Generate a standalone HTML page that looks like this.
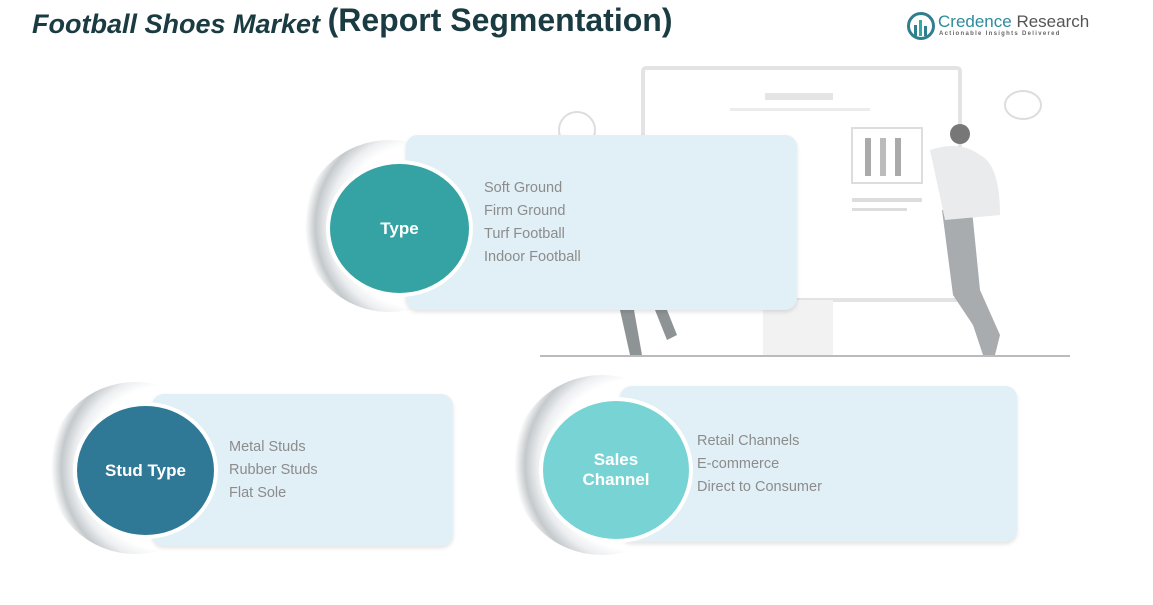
<!DOCTYPE html>
<html><head><style>
body{margin:0;width:1153px;height:605px;background:#fff;position:relative;overflow:hidden;font-family:"Liberation Sans",sans-serif}
.a{position:absolute}
.box{position:absolute;background:#e1eff6;border-radius:12px;box-shadow:0 2px 4px rgba(0,0,0,.12)}
.shad{position:absolute;border-radius:50%;background:radial-gradient(circle at 68% 50%,#fff 56%,#eceef0 64%,#c4c9cc 72%,#fff 79%)}
.c{position:absolute;border-radius:50%;border:4px solid #fff;color:#fff;font-weight:bold;font-size:17px;display:flex;align-items:center;justify-content:center;text-align:center;line-height:20px;box-sizing:border-box}
.t{position:absolute;color:#8c8c8c;font-size:14.5px;line-height:23px}
</style></head><body>
<div class="a" style="left:32px;top:4px;font-size:27px;color:#1b3b42;font-weight:bold;white-space:nowrap"><i>Football Shoes Market</i> <span style="font-size:32px;position:relative;top:-2px">(Report Segmentation)</span></div>
<svg class="a" style="left:906px;top:11px" width="30" height="30"><circle cx="15" cy="15" r="12.5" fill="none" stroke="#2f7f8f" stroke-width="3"/><rect x="8" y="14" width="3" height="11" fill="#2f7f8f"/><rect x="13" y="9" width="3" height="16" fill="#3aa"/><rect x="18" y="15" width="3" height="10" fill="#2f7f8f"/></svg>
<div class="a" style="left:938px;top:12px;font-size:17px;color:#2d8c9c;white-space:nowrap">Credence <span style="color:#555">Research</span></div>
<div class="a" style="left:939px;top:31px;font-size:6px;color:#666;letter-spacing:1.3px;font-weight:bold;white-space:nowrap">Actionable Insights Delivered</div>
<svg class="a" style="left:530px;top:60px" width="560" height="300">
<rect x="113" y="8" width="317" height="232" fill="#fff" stroke="#e3e3e3" stroke-width="4" rx="3"/>
<rect x="235" y="33" width="68" height="7" fill="#e5e5e5"/>
<rect x="200" y="48" width="140" height="3" fill="#ececec"/>
<rect x="233" y="240" width="70" height="55" fill="#f2f2f2"/>
<line x1="10" y1="296" x2="540" y2="296" stroke="#bbb" stroke-width="2"/>
<rect x="322" y="68" width="70" height="55" fill="#fff" stroke="#ddd" stroke-width="2"/>
<rect x="335" y="78" width="6" height="38" fill="#aaa"/><rect x="350" y="78" width="6" height="38" fill="#bbb"/><rect x="365" y="78" width="6" height="38" fill="#aaa"/>
<rect x="322" y="138" width="70" height="4" fill="#ddd"/><rect x="322" y="148" width="55" height="3" fill="#ddd"/>
<path d="M475 45 a18 14 0 1 1 0 .1" fill="none" stroke="#ddd" stroke-width="2"/>
<circle cx="47" cy="70" r="18" fill="none" stroke="#ddd" stroke-width="2"/>
<path d="M412 150 l30 0 l8 80 l20 45 l-5 20 h-12 l-10-30 l-20-30 z" fill="#a8acae"/>
<path d="M400 90 q30 -10 50 5 q20 10 20 60 l-55 5 z" fill="#e9ebec"/>
<circle cx="430" cy="74" r="10" fill="#777"/>
<path d="M90 250 l10 45 h12 l-8-45 z M125 250 l12 30 l10-5 l-10-25z" fill="#8e9496"/>
</svg>
<div class="shad" style="left:302px;top:140px;width:175px;height:172px"></div>
<div class="box" style="left:406px;top:135px;width:391px;height:175px"></div>
<div class="c" style="left:326px;top:160px;width:147px;height:137px;background:#35a3a3">Type</div>
<div class="t" style="left:484px;top:177px">Soft Ground<br>Firm Ground<br>Turf Football<br>Indoor Football</div>
<div class="shad" style="left:48px;top:382px;width:175px;height:172px"></div>
<div class="box" style="left:152px;top:394px;width:301px;height:152px"></div>
<div class="c" style="left:73px;top:402px;width:145px;height:137px;background:#2f7896">Stud Type</div>
<div class="t" style="left:229px;top:436px">Metal Studs<br>Rubber Studs<br>Flat Sole</div>
<div class="shad" style="left:512px;top:375px;width:180px;height:180px"></div>
<div class="box" style="left:620px;top:386px;width:397px;height:156px"></div>
<div class="c" style="left:539px;top:397px;width:154px;height:146px;background:#78d3d4">Sales<br>Channel</div>
<div class="t" style="left:697px;top:430px">Retail Channels<br>E-commerce<br>Direct to Consumer</div>
</body></html>
